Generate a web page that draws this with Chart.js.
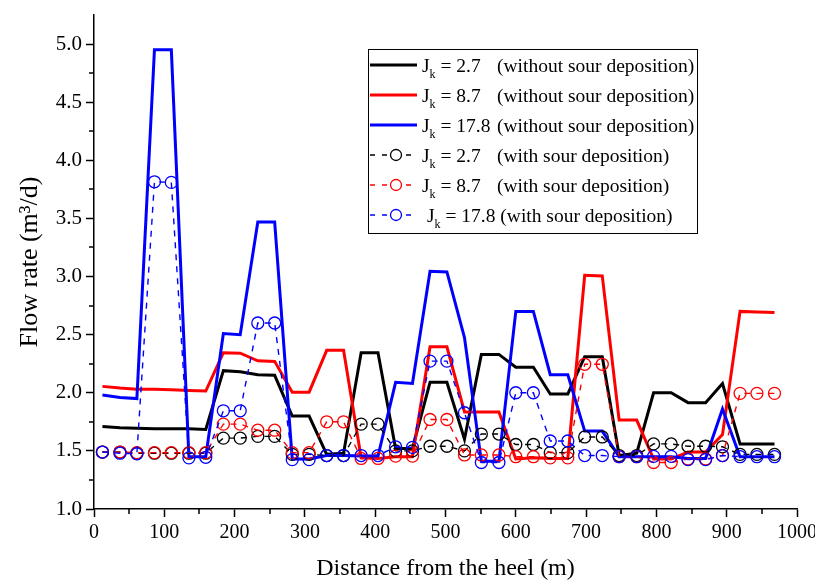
<!DOCTYPE html>
<html>
<head>
<meta charset="utf-8">
<script src="https://cdn.jsdelivr.net/npm/chart.js@4.4.1/dist/chart.umd.min.js"></script>
<style>
  body { margin: 0; background: #fff; }
  canvas { display: block; }
</style>
</head>
<body>
<canvas id="flow" width="815" height="580"></canvas>
<script>
// distance along the well (m)
const distance = [12, 37, 61, 86, 110, 135, 159, 184, 208, 233, 257, 282, 306, 331, 355, 380, 404, 429, 453, 478,
                  502, 527, 551, 576, 600, 625, 649, 674, 698, 723, 747, 772, 796, 821, 845, 870, 894, 919, 943, 968];

// flow rate without sour deposition
const noDep27 = [1.71, 1.70, 1.695, 1.69, 1.69, 1.69, 1.685, 2.19, 2.18, 2.155, 2.15, 1.80, 1.80, 1.47, 1.48, 2.345, 2.345, 1.52, 1.52, 2.09,
                 2.09, 1.60, 2.33, 2.33, 2.22, 2.22, 1.99, 1.99, 2.31, 2.31, 1.46, 1.48, 2.0, 2.0, 1.915, 1.915, 2.08, 1.56, 1.56, 1.56];
const noDep87 = [2.055, 2.04, 2.03, 2.03, 2.025, 2.02, 2.015, 2.345, 2.34, 2.275, 2.27, 2.005, 2.005, 2.365, 2.365, 1.44, 1.435, 1.45, 1.45, 2.395,
                 2.395, 1.835, 1.835, 1.835, 1.43, 1.44, 1.435, 1.435, 3.01, 3.005, 1.765, 1.765, 1.43, 1.43, 1.49, 1.49, 1.64, 2.70, 2.695, 2.69];
const noDep178 = [1.98, 1.96, 1.95, 4.95, 4.95, 1.45, 1.45, 2.51, 2.50, 3.47, 3.47, 1.43, 1.43, 1.46, 1.46, 1.455, 1.455, 2.09, 2.08, 3.045,
                  3.04, 2.475, 1.41, 1.41, 2.70, 2.70, 2.155, 2.155, 1.67, 1.67, 1.45, 1.45, 1.45, 1.45, 1.435, 1.435, 1.86, 1.45, 1.45, 1.45];

// flow rate with sour deposition
const dep27 = [1.49, 1.49, 1.48, 1.48, 1.48, 1.48, 1.48, 1.61, 1.61, 1.625, 1.625, 1.47, 1.47, 1.46, 1.46, 1.73, 1.73, 1.50, 1.50, 1.54,
               1.54, 1.50, 1.645, 1.645, 1.555, 1.555, 1.485, 1.485, 1.62, 1.62, 1.46, 1.46, 1.56, 1.56, 1.54, 1.54, 1.535, 1.47, 1.47, 1.47];
const dep87 = [1.49, 1.49, 1.485, 1.485, 1.485, 1.485, 1.485, 1.73, 1.73, 1.678, 1.678, 1.485, 1.485, 1.75, 1.75, 1.435, 1.435, 1.455, 1.455, 1.77,
               1.77, 1.465, 1.465, 1.465, 1.45, 1.45, 1.44, 1.44, 2.245, 2.245, 1.45, 1.45, 1.40, 1.40, 1.43, 1.43, 1.46, 1.995, 1.995, 1.995];
const dep178 = [1.49, 1.48, 1.475, 3.815, 3.81, 1.44, 1.445, 1.845, 1.845, 2.60, 2.60, 1.425, 1.425, 1.46, 1.46, 1.46, 1.46, 1.535, 1.53, 2.272,
                2.272, 1.828, 1.40, 1.40, 2.0, 2.0, 1.585, 1.585, 1.46, 1.46, 1.45, 1.45, 1.453, 1.453, 1.425, 1.425, 1.46, 1.45, 1.45, 1.45];

const yTicks = [1.0, 1.5, 2.0, 2.5, 3.0, 3.5, 4.0, 4.5, 5.0];
const legendValues = ['2.7', '8.7', '17.8', '2.7', '8.7', '17.8'];
const legendNotes = ['(without sour deposition)', '(without sour deposition)', '(without sour deposition)',
                     '(with sour deposition)', '(with sour deposition)', '(with sour deposition)'];

const serif = '"Liberation Serif", "Times New Roman", serif';

function pts(ys) {
  return ys.map((y, i) => ({ x: distance[i], y: y }));
}

function solid(data, color, order) {
  return { data: pts(data), borderColor: color, borderWidth: 3, pointRadius: 0,
           tension: 0, fill: false, order: order };
}

function dashed(data, color, order) {
  return { data: pts(data), borderColor: color, borderWidth: 1.4, borderDash: [6, 6],
           pointRadius: 6, pointBorderWidth: 1.3, pointBorderColor: color,
           pointBackgroundColor: 'rgba(0,0,0,0)', tension: 0, fill: false, order: order, dashed: true };
}

// short minor ticks between the labelled ones
const minorTicks = {
  id: 'minorTicks',
  afterDraw(chart) {
    const ctx = chart.ctx, xs = chart.scales.x, ys = chart.scales.y;
    ctx.save();
    ctx.strokeStyle = '#000';
    ctx.lineWidth = 1.5;
    ctx.beginPath();
    for (let v = 50; v < 1000; v += 100) {
      const px = Math.round(xs.getPixelForValue(v));
      ctx.moveTo(px, ys.bottom);
      ctx.lineTo(px, ys.bottom + 5);
    }
    for (let v = 1.25; v < 5; v += 0.5) {
      const py = Math.round(ys.getPixelForValue(v));
      ctx.moveTo(xs.left - 5, py);
      ctx.lineTo(xs.left, py);
    }
    ctx.stroke();
    ctx.restore();
  }
};

// boxed legend with J subscript k
const boxLegend = {
  id: 'boxLegend',
  afterDraw(chart) {
    const ctx = chart.ctx;
    const sets = chart.data.datasets;
    const bx = 368, by = 49, bw = 329, bh = 184;
    ctx.save();
    ctx.fillStyle = '#fff';
    ctx.fillRect(bx, by, bw, bh);
    ctx.strokeStyle = '#000';
    ctx.lineWidth = 1;
    ctx.strokeRect(bx + 0.5, by + 0.5, bw, bh);
    ctx.textBaseline = 'alphabetic';
    for (let i = 0; i < sets.length; i++) {
      const ds = sets[i];
      const cy = 65 + i * 30;
      ctx.strokeStyle = ds.borderColor;
      if (ds.dashed) {
        ctx.lineWidth = 1.4;
        ctx.setLineDash([5, 7]);
        ctx.beginPath(); ctx.moveTo(370, cy); ctx.lineTo(418, cy); ctx.stroke();
        ctx.setLineDash([]);
        ctx.fillStyle = '#fff';
        ctx.lineWidth = 1.3;
        ctx.beginPath(); ctx.arc(396, cy, 5.5, 0, Math.PI * 2); ctx.fill(); ctx.stroke();
      } else {
        ctx.lineWidth = 3;
        ctx.beginPath(); ctx.moveTo(370, cy); ctx.lineTo(417, cy); ctx.stroke();
      }
      ctx.fillStyle = '#000';
      let x = i === 5 ? 427 : 422;
      const base = cy + 7;
      ctx.font = '19.5px ' + serif;
      ctx.fillText('J', x, base);
      x += ctx.measureText('J').width;
      ctx.font = '12px ' + serif;
      ctx.fillText('k', x, base + 6);
      x += ctx.measureText('k').width;
      ctx.font = '19.5px ' + serif;
      const head = ' = ' + legendValues[i];
      ctx.fillText(head, x, base);
      x += ctx.measureText(head + ' ').width;
      ctx.fillText(legendNotes[i], Math.max(497, x), base);
    }
    ctx.restore();
  }
};

new Chart(document.getElementById('flow'), {
  type: 'line',
  data: {
    datasets: [
      solid(noDep27, '#000000', 5),
      solid(noDep87, '#ff0000', 4),
      solid(noDep178, '#0000ff', 3),
      dashed(dep27, '#000000', 2),
      dashed(dep87, '#ff0000', 1),
      dashed(dep178, '#0000ff', 0)
    ]
  },
  options: {
    responsive: false,
    animation: false,
    devicePixelRatio: 1,
    layout: { padding: { top: 15, right: 18, left: 0, bottom: 0 } },
    plugins: { legend: { display: false }, tooltip: { enabled: false } },
    scales: {
      x: {
        type: 'linear', min: 0, max: 1000,
        ticks: { stepSize: 100, color: '#000', padding: 4, maxRotation: 0,
                 font: { family: serif, size: 20 }, callback: v => String(v) },
        grid: { drawOnChartArea: false, drawTicks: true, tickLength: 8, tickColor: '#000', tickWidth: 1.5 },
        border: { display: true, color: '#000', width: 1.5 },
        title: { display: true, text: 'Distance from the heel (m)', color: '#000',
                 font: { family: serif, size: 24, lineHeight: 0.9 }, padding: { top: 0, bottom: 0 } },
        afterFit(scale) { scale.height = 71; scale.paddingLeft = 0; scale.paddingRight = 0; }
      },
      y: {
        type: 'linear', min: 1, max: 5.25,
        afterBuildTicks(scale) { scale.ticks = yTicks.map(v => ({ value: v })); },
        ticks: { color: '#000', padding: 4, font: { family: serif, size: 21 },
                 callback: v => v.toFixed(1) },
        grid: { drawOnChartArea: false, drawTicks: true, tickLength: 8, tickColor: '#000', tickWidth: 1.5 },
        border: { display: true, color: '#000', width: 1.5 },
        title: { display: true, text: 'Flow rate (m³/d)', color: '#000',
                 font: { family: serif, size: 26, lineHeight: 1 }, padding: { top: 17, bottom: 0 } },
        afterFit(scale) { scale.width = 94; scale.paddingTop = 0; scale.paddingBottom = 0; }
      }
    }
  },
  plugins: [minorTicks, boxLegend]
});
</script>
</body>
</html>
